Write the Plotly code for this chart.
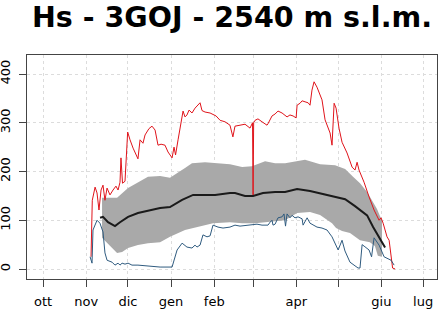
import plotly.graph_objects as go

# Day index: 0 = 1 October (season Oct -> Jul, non-leap year)
month_days = [0, 31, 61, 92, 123, 151, 182, 212, 243, 273]
month_labels = ["ott", "nov", "dic", "gen", "feb", "", "apr", "", "giu", "lug"]

# Maximum snow depth (cm)
max_days = [34.5, 35.4, 37.4, 38.8, 40.2, 41.7, 43.1, 44.5, 46.0, 48.1, 50.3, 52.4, 53.9, 55.3, 56.0,
            57.1, 58.9, 60.8, 62.5, 64.7, 68.2, 69.7, 71.8, 73.3, 76.1, 78.3, 80.5, 82.6, 84.8, 87.6,
            89.8, 92.7, 94.1, 95.2, 97.0, 100.6, 102.0, 103.4, 104.9, 107.0, 109.2, 110.6, 112.8,
            114.2, 116.4, 120.0, 124.3, 127.2, 130.7, 134.3, 136.4, 137.9, 145.1, 148.7, 150.5,
            150.9, 151.3, 152.3, 154.4, 157.3, 160.9, 161.6, 164.5, 166.7, 168.8, 171.7, 175.3,
            177.4, 179.6, 181.8, 182.5, 184.6, 186.1, 188.2, 190.4, 191.8, 193.2, 194.7, 196.8,
            200.4, 202.6, 206.2, 207.6, 209.1, 210.5, 212.6, 214.8, 218.4, 222.0, 224.1, 225.6,
            227.0, 230.6, 234.2, 237.8, 241.4, 242.8, 244.3, 247.1, 248.6, 250.0, 251.1, 252.9]
max_vals = [25, 141, 168, 156, 121, 162, 172, 141, 166, 152, 162, 170, 162, 178, 228,
            176, 180, 281, 265, 248, 226, 265, 258, 275, 288, 293, 285, 254, 256, 254,
            240, 228, 250, 234, 265, 324, 312, 316, 326, 320, 330, 335, 341,
            325, 322, 320, 314, 305, 302, 295, 271, 293, 297, 289, 300,
            152, 300, 305, 308, 302, 295, 298, 314, 318, 324, 320, 312,
            316, 314, 310, 336, 340, 345, 343, 341, 336, 367, 384, 373,
            347, 306, 279, 254, 340, 330, 289, 260, 238, 209, 203, 219,
            203, 178, 148, 121, 100, 105, 94, 66, 59, 25, 2, 0]

# Minimum snow depth (cm)
min_days = [33.8, 35.2, 35.9, 38.8, 40.9, 43.1, 44.5, 46.0, 49.6, 51.7, 53.9, 55.3, 56.8, 58.9,
            61.1, 63.9, 68.2, 75.4, 84.1, 92.7, 96.3, 99.9, 103.4, 107.0, 109.2, 110.6, 112.8,
            114.9, 117.8, 120.0, 122.1, 125.7, 129.3, 134.3, 137.9, 141.5, 147.3, 150.9, 153.7,
            157.3, 161.6, 163.1, 164.5, 165.2, 166.7, 168.8, 171.7, 173.1, 174.2, 175.3, 177.4,
            178.9, 181.0, 183.2, 186.1, 186.8, 189.7, 191.8, 194.0, 196.8, 200.4, 204.0, 207.6,
            209.8, 212.0, 214.8, 216.9, 220.5, 226.3, 227.7, 229.2, 230.6, 234.2, 236.0, 237.8,
            241.4, 245.0, 250.0, 252.2]
min_vals = [25, 12, 80, 100, 94, 76, 33, 18, 14, 8, 12, 8, 12, 10,
            12, 8, 8, 6, 4, 4, 39, 53, 45, 43, 49, 45, 49,
            70, 66, 68, 90, 86, 84, 86, 90, 88, 90, 90, 92,
            90, 90, 96, 100, 90, 92, 105, 107, 113, 88, 113, 105,
            110, 105, 107, 103, 90, 105, 94, 90, 86, 84, 80, 66,
            53, 39, 59, 37, 14, 2, 2, 50, 47, 39, 25, 64,
            49, 25, 18, 8, 2]

# Mean snow depth (cm)
mean_days = [41.0, 43.1, 46.7, 51.7, 55.3, 61.1, 68.2, 75.4, 84.1, 91.2, 99.9, 107.8, 116.4,
             123.6, 134.3, 137.9, 145.1, 150.9, 158.0, 166.7, 173.9, 182.5, 191.8, 200.4,
             209.8, 217.0, 224.1, 227.7, 232.8, 237.1, 242.1, 245.7]
mean_vals = [105, 107, 96, 88, 96, 107, 115, 119, 125, 127, 142, 152, 152,
             152, 156, 156, 150, 150, 156, 158, 158, 164, 160, 154,
             148, 143, 129, 121, 110, 86, 63, 44]

# Variability band (upper / lower bounds, cm)
upper_days = [42.4, 53.2, 61.1, 68.2, 75.4, 84.1, 91.2, 102.0, 107.0, 116.4, 123.6, 134.3,
              143.0, 150.1, 159.5, 166.7, 173.9, 182.5, 188.2, 191.8, 199.0, 209.8, 217.0,
              222.7, 227.7, 232.8, 236.4, 239.9, 242.1, 243.5]
upper_vals = [146, 146, 166, 178, 189, 191, 187, 207, 217, 219, 217, 215,
              209, 211, 221, 217, 217, 222, 224, 221, 215, 213, 205,
              189, 176, 158, 141, 123, 108, 100]
lower_days = [42.4, 46.0, 53.2, 56.8, 61.1, 68.2, 75.4, 84.1, 91.2, 102.0, 111.4, 122.1,
              134.3, 143.0, 152.3, 161.6, 173.9, 182.5, 191.8, 199.0, 202.6, 207.6, 210.5,
              214.8, 220.5, 227.7, 234.8, 238.4, 240.5, 243.5]
lower_vals = [64, 53, 33, 35, 43, 49, 53, 55, 66, 80, 86, 94,
              96, 94, 94, 96, 100, 115, 117, 111, 105, 94, 84,
              78, 74, 59, 55, 47, 27, 25]

band_x = upper_days + lower_days[::-1]
band_y = upper_vals + lower_vals[::-1]

fig = go.Figure()
fig.add_trace(go.Scatter(x=band_x, y=band_y, mode="lines", fill="toself",
                         fillcolor="#a9a9a9", line=dict(width=0, color="#a9a9a9"),
                         hoverinfo="skip", showlegend=False))
fig.add_trace(go.Scatter(x=max_days, y=max_vals, mode="lines",
                         line=dict(color="#e0141b", width=1), showlegend=False))
fig.add_trace(go.Scatter(x=min_days, y=min_vals, mode="lines",
                         line=dict(color="#2f5b7f", width=1), showlegend=False))
fig.add_trace(go.Scatter(x=mean_days, y=mean_vals, mode="lines",
                         line=dict(color="#1a1a1a", width=2), showlegend=False))

axis_common = dict(showline=True, linecolor="#444444", linewidth=1, mirror=True,
                   ticks="outside", ticklen=7, tickcolor="#444444", automargin=False,
                   showgrid=True, gridcolor="#dcdcdc", griddash="dot", gridwidth=1,
                   zeroline=False, tickfont=dict(family="DejaVu Sans", size=13, color="#000000"))

fig.update_layout(
    width=439, height=309,
    margin=dict(l=27, r=2, t=55, b=30),
    paper_bgcolor="white", plot_bgcolor="white",
    title=dict(text="<b>Hs - 3GOJ - 2540 m s.l.m.</b>", x=0.5, xref="paper",
               y=0.945, yref="container", yanchor="middle",
               font=dict(family="DejaVu Sans", size=28.5, color="#000000")),
    xaxis=dict(range=[-11.5, 283.0], tickmode="array", tickvals=month_days,
               ticktext=month_labels, ticklabelstandoff=3, **axis_common),
    yaxis=dict(range=[-20.5, 439], tickmode="array", tickvals=[0, 100, 200, 300, 400],
               ticktext=["0", "100", "200", "300", "400"], tickangle=-90,
               ticklabelstandoff=4, **axis_common),
)

fig.write_html("out.html")
